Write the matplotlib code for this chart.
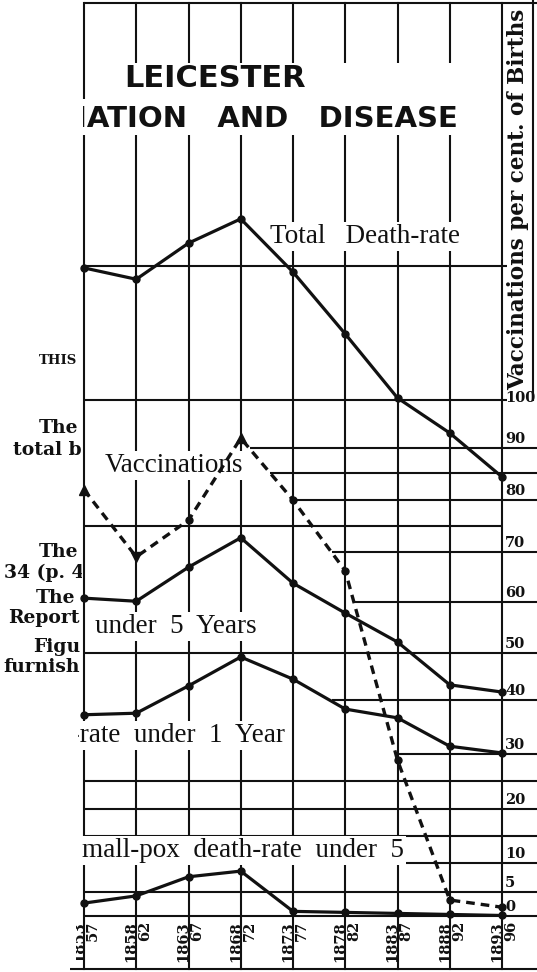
import matplotlib
matplotlib.use("Agg")
import matplotlib.pyplot as plt
from matplotlib.patches import Rectangle
from matplotlib.transforms import Bbox, TransformedBbox

# ---------------- data (in units of the right-hand scale) -------------
period_start = ["1853", "1858", "1863", "1868", "1873", "1878", "1883", "1888", "1893"]
period_end = ["57", "62", "67", "72", "77", "82", "87", "92", "96"]

total_death_rate = [125.6, 123.4, 130.4, 135.1, 124.8, 112.8, 100.4, 93.6, 85.1]
vaccinations = [82.6, 69.6, 76.7, 92.6, 80.6, 66.9, 30.2, 3.1, 1.7]
death_rate_under_5 = [61.6, 61.0, 67.6, 73.3, 64.5, 58.7, 53.1, 44.8, 43.4]
death_rate_under_1 = [39.0, 39.3, 44.6, 50.2, 45.9, 40.1, 38.4, 32.9, 31.6]
smallpox_under_5 = [2.5, 3.9, 7.6, 8.7, 0.9, 0.7, 0.5, 0.3, 0.1]

right_tick_labels = ["100", "90", "80", "70", "60", "50", "40", "30", "20", "10", "5", "0"]
right_tick_values = [100, 90.7, 80.6, 70.5, 60.9, 51.0, 41.9, 31.4, 20.7, 10.3, 4.7, 0]

# ---------------- layout helpers ----------------
W, H = 537, 972
X0, DX = 84, 52.25       # pixel of first period line, spacing
Y0, DY = 916, 5.16       # pixel of zero line, pixels per unit

def xd(px):
    return (px - X0) / DX

def yd(py):
    return (Y0 - py) / DY

INK = "#111111"
fig = plt.figure(figsize=(W / 100, H / 100), dpi=100)
fig.patch.set_facecolor("white")
ax = fig.add_axes([0, 0, 1, 1])
ax.set_xlim(xd(0), xd(W))
ax.set_ylim(yd(H), yd(0))
ax.axis("off")

def clip_x(t, left_px, right_px=W):
    bb = TransformedBbox(Bbox.from_extents(left_px / W, 0, right_px / W, 1), fig.transFigure)
    t.set_clip_box(bb)
    t.set_clip_on(True)

n = len(period_start)
idx = list(range(n))

# ---------------- grid ----------------
grid_lw = 1.5
hrules = [(yd(3), 84, 537), (yd(266), 82, 507), (yd(400), 84, 507),
          (yd(448), 250, 537), (yd(473), 270, 537), (yd(500), 293, 537),
          (yd(526), 84, 503), (yd(552), 332, 537), (yd(602), 353, 537),
          (yd(653), 84, 537), (yd(700), 332, 537), (yd(754), 397, 537),
          (yd(781), 84, 537), (yd(809), 84, 537), (yd(836), 84, 537),
          (yd(863), 84, 537), (yd(892), 84, 537), (yd(916), 84, 537),
          (yd(969), 70, 537)]
for v, a, b in hrules:
    ax.plot([xd(a), xd(b)], [v, v], color=INK, lw=grid_lw, zorder=1,
            solid_capstyle="butt")
for i in idx:
    ax.plot([i, i], [yd(969), yd(3)], color=INK, lw=grid_lw, zorder=1)
ax.plot([xd(533), xd(533)], [yd(400), yd(0)], color=INK, lw=grid_lw, zorder=1)

# white area behind title
ax.add_patch(Rectangle((xd(86), yd(135)), xd(462) - xd(86), yd(63) - yd(135),
                       facecolor="white", edgecolor="none", zorder=1.5))
ax.add_patch(Rectangle((xd(80), yd(135)), xd(462) - xd(80), yd(99) - yd(135),
                       facecolor="white", edgecolor="none", zorder=1.5))

# ---------------- title ----------------
ax.text(xd(215), yd(79), "LEICESTER", fontsize=22, fontweight="bold",
        family="DejaVu Sans", ha="center", va="center", color=INK, zorder=2)
t = ax.text(xd(458), yd(119), "VACCINATION   AND   DISEASE", fontsize=21,
            fontweight="bold", family="DejaVu Sans", ha="right", va="center",
            color=INK, zorder=2)
clip_x(t, 83)

# ---------------- series labels ----------------
lab_kw = dict(fontsize=19.5, family="Liberation Serif", color=INK, zorder=2,
              va="baseline",
              bbox=dict(facecolor="white", edgecolor="none", pad=1.5))
ax.text(xd(270), yd(243), "Total   Death-rate", ha="left", **lab_kw)
ax.text(xd(105), yd(472), "Vaccinations", ha="left", **lab_kw)
ax.text(xd(95), yd(633), "under  5  Years", ha="left", **lab_kw)
t = ax.text(xd(285), yd(742), "Death-rate  under  1  Year", ha="right", **lab_kw)
clip_x(t, 78)
ax.text(xd(82), yd(857), "mall-pox  death-rate  under  5", ha="left", **lab_kw)

# ---------------- data lines ----------------
line_kw = dict(color=INK, lw=2.3, zorder=3, solid_joinstyle="miter")
for series in (total_death_rate, death_rate_under_5, death_rate_under_1, smallpox_under_5):
    ax.plot(idx, series, marker="o", ms=5, **line_kw)

ax.plot(idx, vaccinations, color=INK, lw=2.4, dashes=(2.6, 1.8), zorder=3)
ups = [0, 3]
downs = [1]
dots = [i for i in idx if i not in ups + downs]
ax.plot(ups, [vaccinations[i] for i in ups], "^", color=INK, ms=7, zorder=3)
ax.plot(downs, [vaccinations[i] for i in downs], "v", color=INK, ms=7, zorder=3)
ax.plot(dots, [vaccinations[i] for i in dots], "o", color=INK, ms=5, zorder=3)

# ---------------- right-hand scale ----------------
for lab, v in zip(right_tick_labels, right_tick_values):
    off = 0.3 if lab == "100" else 1.7
    ax.text(xd(505), v + off, lab, fontsize=10.5, fontweight="bold",
            family="DejaVu Serif", ha="left", va="center", color=INK, zorder=4)
ax.text(xd(518), yd(199), "Vaccinations per cent. of Births", rotation=90,
        fontsize=15.5, fontweight="bold", family="DejaVu Serif",
        ha="center", va="center", color=INK, zorder=4)

# ---------------- period labels ----------------
for i in idx:
    t = ax.text(i + xd(X0 - 5), yd(942), period_start[i], rotation=90,
                fontsize=10.5, fontweight="bold", family="DejaVu Serif",
                ha="center", va="center", color=INK, zorder=4)
    if i == 0:
        clip_x(t, 76)
    ax.text(i + xd(X0 + 9), yd(921), period_end[i], rotation=90,
            fontsize=10.5, fontweight="bold", family="DejaVu Serif",
            ha="center", va="top", color=INK, zorder=4)

# ---------------- fragments of the page text on the left ----------------
page_kw = dict(fontsize=13.5, fontweight="bold", family="DejaVu Serif",
               ha="right", va="center", color=INK, zorder=4)
ax.text(xd(77), yd(360), "THIS", fontsize=9.5, fontweight="bold",
        family="DejaVu Serif", ha="right", va="center", color=INK)
page_lines = [("The", 78, 428), ("total b", 82, 450), ("The", 78, 552),
              ("34 (p. 4", 85, 573), ("The", 75, 598), ("Report", 80, 618),
              ("Figu", 80, 647), ("furnish", 80, 667)]
for txt, xr, yc in page_lines:
    t = ax.text(xd(xr), yd(yc), txt, **page_kw)
    clip_x(t, 0, 82)

fig.savefig("out.png", dpi=100, facecolor="white")
